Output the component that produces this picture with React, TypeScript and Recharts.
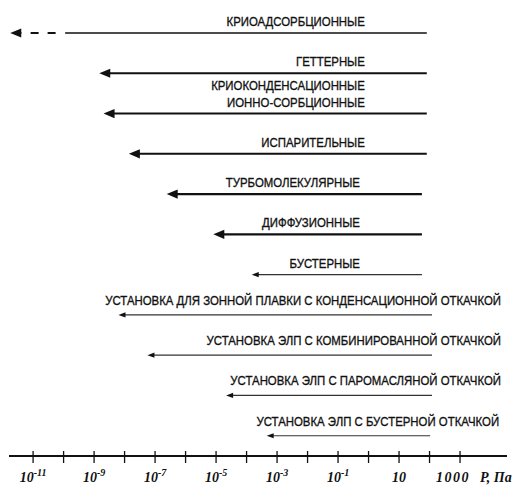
import React from "react";
import { ComposedChart, Bar, XAxis, YAxis, Label, LabelList } from "recharts";

// Row labels (pump types, then installations)
const ROW_LABELS = [
  "КРИОАДСОРБЦИОННЫЕ",
  "ГЕТТЕРНЫЕ",
  "КРИОКОНДЕНСАЦИОННЫЕ\nИОННО-СОРБЦИОННЫЕ",
  "ИСПАРИТЕЛЬНЫЕ",
  "ТУРБОМОЛЕКУЛЯРНЫЕ",
  "ДИФФУЗИОННЫЕ",
  "БУСТЕРНЫЕ",
  "УСТАНОВКА ДЛЯ ЗОННОЙ ПЛАВКИ С  КОНДЕНСАЦИОННОЙ ОТКАЧКОЙ",
  "УСТАНОВКА ЭЛП С КОМБИНИРОВАННОЙ ОТКАЧКОЙ",
  "УСТАНОВКА ЭЛП С ПАРОМАСЛЯНОЙ ОТКАЧКОЙ",
  "УСТАНОВКА ЭЛП С БУСТЕРНОЙ ОТКАЧКОЙ",
];

// log10(P, Pa) of the working range: lower limit (arrow tip) and upper limit
const LOW_EXP = [-9.95, -8.83, -8.69, -7.86, -6.62, -5.09, -3.83, -8.2, -7.25, -4.67, -3.34];
const HIGH_EXP = [1.91, 1.91, 1.91, 1.91, 1.75, 1.75, 1.75, 2.08, 2.08, 2.08, 2.02];
// extrapolated (dashed) lower limit
const DASHED_LOW_EXP: (number | null)[] = [-11.75, null, null, null, null, null, null, null, null, null, null];

// axis ticks (every decade) and labelled ticks
const AXIS_TICKS = [-11, -10, -9, -8, -7, -6, -5, -4, -3, -2, -1, 0, 1, 2, 3];
const TICK_LABEL_VALUES = [-11, -9, -7, -5, -3, -1, 1, 3];
const TICK_LABEL_BASES = ["10", "10", "10", "10", "10", "10", "10", "1000"];
const TICK_LABEL_EXPONENTS = ["-11", "-9", "-7", "-5", "-3", "-1", "", ""];
const AXIS_TITLE = "P, Па";

const THIN_FROM = 6; // rows drawn with thin arrows
const INSTALL_FROM = 7; // rows of installations

const rows = ROW_LABELS.map((name, i) => ({
  name,
  idx: i,
  range: [LOW_EXP[i], HIGH_EXP[i]],
  dashed: DASHED_LOW_EXP[i] != null ? [DASHED_LOW_EXP[i], LOW_EXP[i]] : null,
}));

const INK = "#111";

const ArrowShape = (props: any) => {
  const { x, y, width, height, payload } = props;
  if (width == null || isNaN(x)) return null;
  const cy = y + height / 2;
  const thin = payload.idx >= THIN_FROM;
  const hasDash = payload.dashed != null;
  const headLen = thin ? 7 : 11;
  const headHalf = thin ? 2.6 : 4.6;
  const sw = thin ? 1.2 : hasDash ? 1.6 : 2.1;
  return (
    <g>
      <line
        x1={x + width}
        y1={cy}
        x2={hasDash ? x : x + headLen - 1}
        y2={cy}
        stroke={thin ? "#333" : INK}
        strokeWidth={sw}
      />
      {!hasDash && (
        <polygon
          points={`${x},${cy} ${x + headLen},${cy - headHalf} ${x + headLen},${cy + headHalf}`}
          fill={INK}
        />
      )}
    </g>
  );
};

const DashShape = (props: any) => {
  const { x, y, width, height } = props;
  if (width == null || isNaN(x)) return null;
  const cy = y + height / 2;
  const headLen = 11;
  return (
    <g>
      <line
        x1={x + width - 9.5}
        y1={cy}
        x2={x + headLen}
        y2={cy}
        stroke={INK}
        strokeWidth={1.8}
        strokeDasharray="8 9"
      />
      <polygon
        points={`${x},${cy} ${x + headLen},${cy - 4.6} ${x + headLen},${cy + 4.6}`}
        fill={INK}
      />
    </g>
  );
};

const RowLabel = (props: any) => {
  const { x, y, width, height, value, index } = props;
  if (value == null) return null;
  const cy = y + height / 2;
  const install = index >= INSTALL_FROM;
  const right = x + width + (install ? 69 : -62);
  const base = cy - (install ? 10 : 7);
  const lines = String(value).split("\n");
  return (
    <text
      transform={`translate(${right} ${base}) scale(0.845 1)`}
      textAnchor="end"
      fontFamily="'Liberation Sans', Arial, sans-serif"
      fontSize={13.5}
      fill={INK}
      stroke={INK}
      strokeWidth={0.35}
    >
      {lines.map((l, k) => (
        <tspan key={k} x={0} y={-(lines.length - 1 - k) * 17}>
          {l}
        </tspan>
      ))}
    </text>
  );
};

const AxisTick = (props: any) => {
  const { x, y, payload } = props;
  const v = payload.value;
  const li = TICK_LABEL_VALUES.indexOf(v);
  const isLast = li === TICK_LABEL_VALUES.length - 1;
  return (
    <g>
      <line x1={x} y1={y - 5} x2={x} y2={y + 7} stroke={INK} strokeWidth={1.3} />
      {li >= 0 && (
        <text
          x={x - (isLast ? 7 : 0)}
          y={y + 26}
          textAnchor="middle"
          fontFamily="'Liberation Serif', 'Times New Roman', serif"
          fontStyle="italic"
          fontWeight="bold"
          fontSize={14}
          fill={INK}
          letterSpacing={isLast ? 1.5 : 0}
        >
          <tspan>{TICK_LABEL_BASES[li]}</tspan>
          {TICK_LABEL_EXPONENTS[li] && (
            <tspan fontSize={10} dy={-6}>
              {TICK_LABEL_EXPONENTS[li]}
            </tspan>
          )}
        </text>
      )}
    </g>
  );
};

const AxisTitle = (props: any) => {
  const { viewBox } = props;
  return (
    <text
      x={viewBox.x + viewBox.width - 27}
      y={viewBox.y + 26}
      fontFamily="'Liberation Serif', 'Times New Roman', serif"
      fontStyle="italic"
      fontWeight="bold"
      fontSize={14}
      fill={INK}
    >
      {AXIS_TITLE}
    </text>
  );
};

export default function App() {
  return (
    <div style={{ position: "absolute", left: 0, top: 0, background: "#fff" }}>
      <ComposedChart
        width={518}
        height={488}
        data={rows}
        layout="vertical"
        margin={{ top: 13, right: 11, bottom: 2, left: 9 }}
        barGap={-10}
        barCategoryGap={0}
      >
        <XAxis
          type="number"
          dataKey="range"
          domain={[-11.79, 4.54]}
          ticks={AXIS_TICKS}
          allowDataOverflow
          interval={0}
          height={30}
          tickSize={0}
          tickMargin={0}
          tickLine={false}
          axisLine={{ stroke: INK, strokeWidth: 2 }}
          tick={<AxisTick />}
        >
          <Label content={<AxisTitle />} />
        </XAxis>
        <YAxis type="category" dataKey="name" hide />
        <Bar dataKey="range" barSize={10} shape={<ArrowShape />} isAnimationActive={false}>
          <LabelList dataKey="name" content={<RowLabel />} />
        </Bar>
        <Bar dataKey="dashed" barSize={10} shape={<DashShape />} isAnimationActive={false} />
      </ComposedChart>
    </div>
  );
}
